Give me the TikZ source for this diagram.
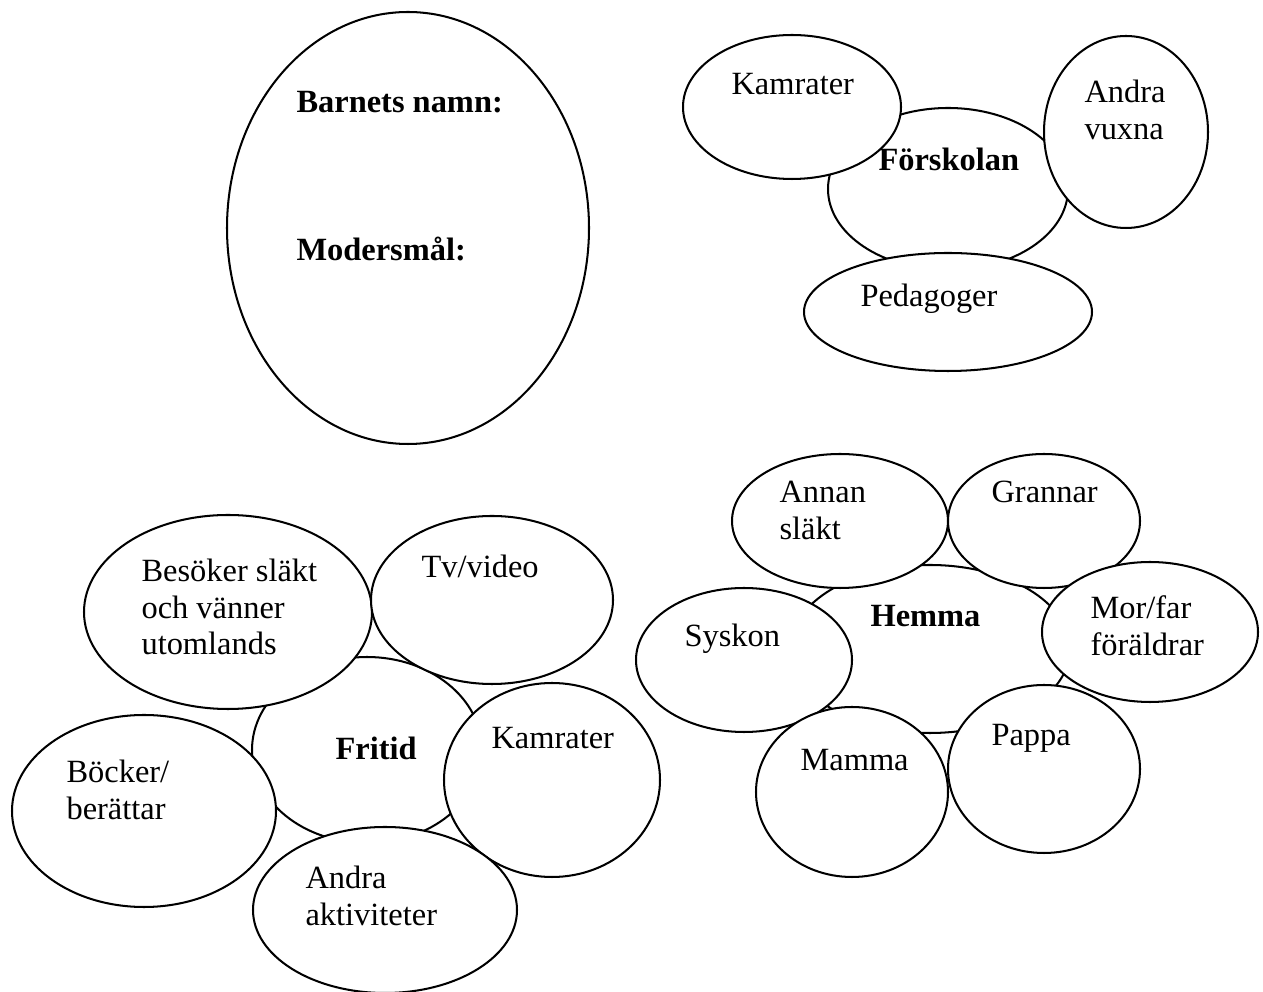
\documentclass[tikz,border=0pt]{standalone}
\usepackage{fontspec}
\setmainfont{Liberation Serif}
\begin{document}
\begin{tikzpicture}[x=0.37pt,y=-0.37pt,
  bubble/.style={draw=black,fill=white,line width=0.75pt},
  lbl/.style={anchor=base west,inner sep=0pt,font=\fontsize{12pt}{13.4pt}\selectfont},
  hd/.style={lbl,font=\fontsize{12pt}{13.4pt}\selectfont\bfseries}]
\useasboundingbox (0,0) rectangle (1263,992);
\newcommand{\twolines}[2]{\begin{tabular}[t]{@{}l@{}}#1\\#2\end{tabular}}

% the child
\draw[bubble] (408,228) ellipse [x radius=181, y radius=216];
\node[hd] (namn) at (296,113) {Barnets namn:};
\node[hd] (sprak) at (296,261) {Modersmål:};

% preschool
\draw[bubble] (948,189) ellipse [x radius=120, y radius=81];
\draw[bubble] (792,107) ellipse [x radius=109, y radius=72];
\draw[bubble] (1126,132) ellipse [x radius=82, y radius=96];
\draw[bubble] (948,312) ellipse [x radius=144, y radius=59];
\node[hd] (forskolan) at (878,171) {Förskolan};
\node[lbl] (fkamrater) at (731,95) {Kamrater};
\node[lbl] (vuxna) at (1084,103) {\twolines{Andra}{vuxna}};
\node[lbl] (pedagoger) at (860,307) {Pedagoger};

% home
\draw[bubble] (930,649) ellipse [x radius=140, y radius=84];
\draw[bubble] (840,521) ellipse [x radius=108, y radius=67];
\draw[bubble] (1044,521) ellipse [x radius=96, y radius=67];
\draw[bubble] (1150,632) ellipse [x radius=108, y radius=70];
\draw[bubble] (744,660) ellipse [x radius=108, y radius=72];
\draw[bubble] (852,792) ellipse [x radius=96, y radius=85];
\draw[bubble] (1044,769) ellipse [x radius=96, y radius=84];
\node[hd] (hemma) at (870,627) {Hemma};
\node[lbl] (slakt) at (779,503) {\twolines{Annan}{släkt}};
\node[lbl] (grannar) at (991,503) {Grannar};
\node[lbl] (morfar) at (1090,619) {\twolines{Mor/far}{föräldrar}};
\node[lbl] (syskon) at (684,647) {Syskon};
\node[lbl] (mamma) at (800,771) {Mamma};
\node[lbl] (pappa) at (991,746) {Pappa};

% leisure
\draw[bubble] (367,750) ellipse [x radius=115, y radius=93];
\draw[bubble] (228,612) ellipse [x radius=144, y radius=97];
\draw[bubble] (492,600) ellipse [x radius=121, y radius=84];
\draw[bubble] (552,780) ellipse [x radius=108, y radius=97];
\draw[bubble] (144,811) ellipse [x radius=132, y radius=96];
\draw[bubble] (385,910) ellipse [x radius=132, y radius=83];
\node[hd] (fritid) at (335,760) {Fritid};
\node[lbl] (besok) at (141,582) {\begin{tabular}[t]{@{}l@{}}Besöker släkt\\och vänner\\utomlands\end{tabular}};
\node[lbl] (tv) at (421,578) {Tv/video};
\node[lbl] (kamrater) at (491,749) {Kamrater};
\node[lbl] (bocker) at (66,783) {\twolines{Böcker/}{berättar}};
\node[lbl] (aktiviteter) at (305,889) {\twolines{Andra}{aktiviteter}};
\end{tikzpicture}
\end{document}
